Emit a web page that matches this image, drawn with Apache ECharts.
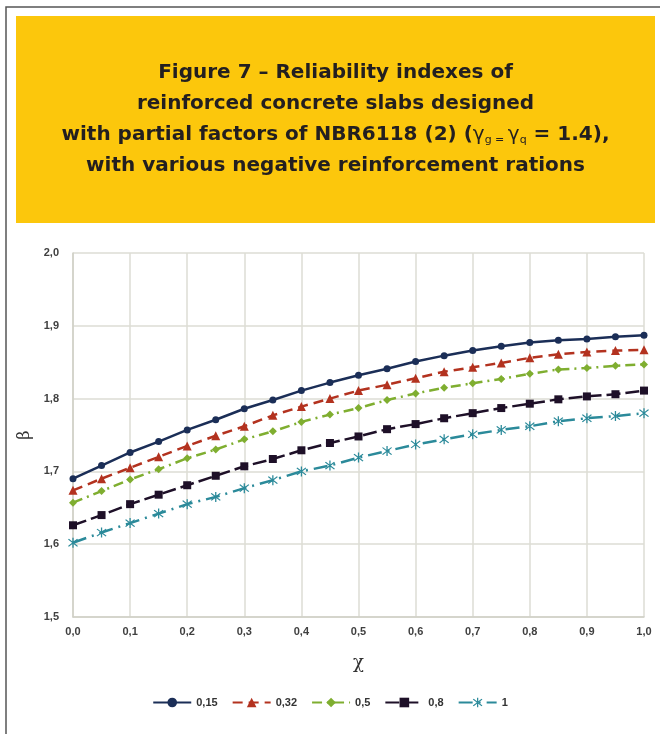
<!DOCTYPE html>
<html>
<head>
<meta charset="utf-8">
<script src="https://cdn.jsdelivr.net/npm/echarts@6/dist/echarts.min.js"></script>
<style>
  html, body { margin: 0; padding: 0; background: #ffffff; }
  #chart { width: 660px; height: 734px; }
</style>
</head>
<body>
<div id="chart"></div>
<script>
// χ values (load ratio) shared by all curves
const chi = [0.00, 0.05, 0.10, 0.15, 0.20, 0.25, 0.30, 0.35, 0.40, 0.45, 0.50,
             0.55, 0.60, 0.65, 0.70, 0.75, 0.80, 0.85, 0.90, 0.95, 1.00];

// β for each negative reinforcement ratio
const beta015 = [1.690, 1.708, 1.726, 1.741, 1.757, 1.771, 1.786, 1.798, 1.811, 1.822, 1.832,
                 1.841, 1.851, 1.859, 1.866, 1.872, 1.877, 1.880, 1.882, 1.885, 1.887];
const beta032 = [1.674, 1.690, 1.705, 1.720, 1.735, 1.749, 1.762, 1.777, 1.789, 1.800, 1.811,
                 1.819, 1.828, 1.837, 1.843, 1.849, 1.856, 1.861, 1.864, 1.866, 1.867];
const beta05  = [1.657, 1.673, 1.689, 1.703, 1.718, 1.730, 1.744, 1.755, 1.768, 1.778, 1.787,
                 1.798, 1.807, 1.815, 1.821, 1.827, 1.834, 1.840, 1.842, 1.845, 1.847];
const beta08  = [1.626, 1.640, 1.655, 1.668, 1.681, 1.694, 1.707, 1.717, 1.729, 1.739, 1.748,
                 1.758, 1.765, 1.773, 1.780, 1.787, 1.793, 1.799, 1.803, 1.806, 1.811];
const beta1   = [1.602, 1.616, 1.629, 1.642, 1.655, 1.665, 1.677, 1.688, 1.700, 1.708, 1.719,
                 1.728, 1.737, 1.744, 1.751, 1.757, 1.762, 1.769, 1.773, 1.776, 1.780];

const seriesNames = ['0,15', '0,32', '0,5', '0,8', '1'];

// six-spoke asterisk marker built from three bars
const asterisk = 'path://M9 0L11 0L11 20L9 20Z' +
  'M2.22 3.64L3.64 2.22L17.78 16.36L16.36 17.78Z' +
  'M16.36 2.22L17.78 3.64L3.64 17.78L2.22 16.36Z';

const styles = [
  { color: '#1b2e57', dash: 'solid',          symbol: 'circle',   size: 7 },
  { color: '#b3321f', dash: [10, 6],          symbol: 'triangle', size: 9 },
  { color: '#7fae30', dash: [10, 5, 2, 5],    symbol: 'diamond',  size: 8 },
  { color: '#1e1028', dash: [14, 5],          symbol: 'rect',     size: 8 },
  { color: '#2b8a9a', dash: [14, 6, 2, 6],    symbol: asterisk,   size: 10 }
];

const allBeta = [beta015, beta032, beta05, beta08, beta1];

const fmt = v => v.toFixed(1).replace('.', ',');

const chart = echarts.init(document.getElementById('chart'), null, { renderer: 'canvas' });

const titleFont = '"DejaVu Sans", Verdana, sans-serif';
const labelFont = '"Liberation Sans", Arial, sans-serif';

chart.setOption({
  animation: false,
  backgroundColor: '#ffffff',
  graphic: [
    // outer frame
    { type: 'rect', shape: { x: 6, y: 7, width: 700, height: 760 },
      style: { fill: 'none', stroke: '#555555', lineWidth: 1.5 }, silent: true, z: 0 },
    // yellow title panel
    { type: 'rect', shape: { x: 16, y: 16, width: 639, height: 207 },
      style: { fill: '#fcc70c' }, silent: true, z: 1 },
    {
      type: 'text', x: 335.5, y: 57, z: 2,
      style: {
        text: '{t|Figure 7 – Reliability indexes of}\n' +
              '{t|reinforced concrete slabs designed}\n' +
              '{t|with partial factors of NBR6118 (2) (}{g|γ}{s|g = }{g|γ}{s|q}{t| = 1.4),}\n' +
              '{t|with various negative reinforcement rations}',
        align: 'center',
        verticalAlign: 'top',
        rich: {
          t: { fontFamily: titleFont, fontWeight: 'bold', fontSize: 20, lineHeight: 31, fill: '#231f20' },
          g: { fontFamily: titleFont, fontWeight: 'normal', fontSize: 20, lineHeight: 31, fill: '#231f20' },
          s: { fontFamily: titleFont, fontWeight: 'normal', fontSize: 11, lineHeight: 11,
               padding: [12, 0, 0, 0], fill: '#231f20' }
        }
      }
    }
  ],
  legend: {
    top: 692,
    left: 'center',
    itemWidth: 38,
    itemHeight: 12,
    itemGap: 14,
    textStyle: { fontFamily: labelFont, fontWeight: 'bold', fontSize: 11, color: '#333333' },
    data: seriesNames
  },
  grid: { left: 73, right: 16, top: 253, bottom: 117, containLabel: false },
  xAxis: {
    type: 'value', min: 0, max: 1, interval: 0.1,
    name: 'χ', nameLocation: 'middle', nameGap: 37,
    nameTextStyle: { fontFamily: '"DejaVu Serif", serif', fontSize: 18, color: '#333333' },
    axisLine: { lineStyle: { color: '#cfcfc6', width: 1.5 } },
    axisTick: { show: false },
    axisLabel: { formatter: fmt, margin: 9, fontFamily: labelFont,
                 fontWeight: 'bold', fontSize: 11, color: '#404040' },
    splitLine: { show: true, lineStyle: { color: '#dcdcd4', width: 1.5 } }
  },
  yAxis: {
    type: 'value', min: 1.5, max: 2.0, interval: 0.1,
    name: 'β', nameLocation: 'middle', nameGap: 33,
    nameTextStyle: { fontFamily: '"DejaVu Serif", serif', fontSize: 16, color: '#333333' },
    axisLine: { show: true, lineStyle: { color: '#cfcfc6', width: 1.5 } },
    axisTick: { show: false },
    axisLabel: { formatter: fmt, margin: 14, fontFamily: labelFont,
                 fontWeight: 'bold', fontSize: 11, color: '#404040' },
    splitLine: { show: true, lineStyle: { color: '#dcdcd4', width: 1.5 } }
  },
  series: seriesNames.map((name, i) => ({
    name,
    type: 'line',
    data: chi.map((x, k) => [x, allBeta[i][k]]),
    symbol: styles[i].symbol,
    symbolSize: styles[i].size,
    showAllSymbol: true,
    smooth: false,
    color: styles[i].color,
    lineStyle: { color: styles[i].color, width: 2.5, type: styles[i].dash },
    itemStyle: { color: styles[i].color }
  }))
});
</script>
</body>
</html>
